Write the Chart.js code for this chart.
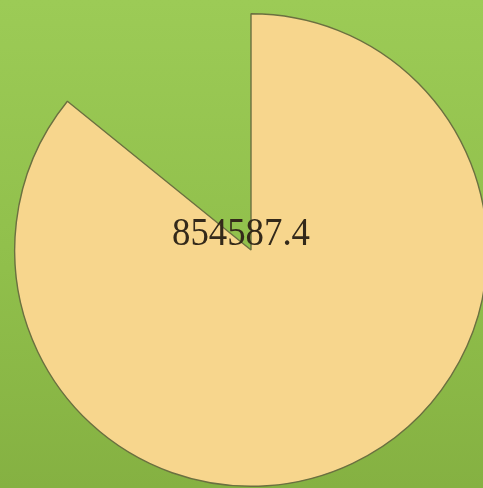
<!DOCTYPE html>
<html>
<head>
<meta charset="utf-8">
<script src="https://cdn.jsdelivr.net/npm/chart.js@4.4.0/dist/chart.umd.min.js"></script>
<style>
  html, body { margin: 0; padding: 0; overflow: hidden; }
  body {
    width: 483px; height: 488px;
    background: linear-gradient(to bottom, #9ccb56 0%, #90bf4b 55%, #85b142 100%);
  }
  .wrap { width: 500px; height: 488px; position: relative; }
</style>
</head>
<body>
<div class="wrap"><canvas id="pie"></canvas></div>
<script>
// value shown and the empty rest of the circle
const labels = ['Value', 'Rest'];
const values = [854587.4, 141000];
const valueText = '854587.4';

const sliceColors = ['#f7d68d', 'rgba(0,0,0,0)'];
const sliceBorders = ['#6b7040', 'rgba(0,0,0,0)'];

const centerLabel = {
  id: 'centerLabel',
  afterDatasetsDraw(chart) {
    const arc = chart.getDatasetMeta(0).data[0];
    const ctx = chart.ctx;
    ctx.save();
    ctx.font = '41px "Liberation Serif", "Times New Roman", serif';
    ctx.fillStyle = '#33291a';
    ctx.textAlign = 'center';
    ctx.textBaseline = 'middle';
    ctx.fillText(valueText, arc.x - 10, arc.y - 16, 138);
    ctx.restore();
  }
};

new Chart(document.getElementById('pie'), {
  type: 'pie',
  data: {
    labels: labels,
    datasets: [{
      data: values,
      backgroundColor: sliceColors,
      borderColor: sliceBorders,
      borderWidth: [1.4, 0]
    }]
  },
  options: {
    responsive: true,
    maintainAspectRatio: false,
    animation: false,
    layout: { padding: { left: 14, right: 12, top: 13, bottom: 1 } },
    plugins: {
      legend: { display: false },
      tooltip: { enabled: false }
    }
  },
  plugins: [centerLabel]
});
</script>
</body>
</html>
